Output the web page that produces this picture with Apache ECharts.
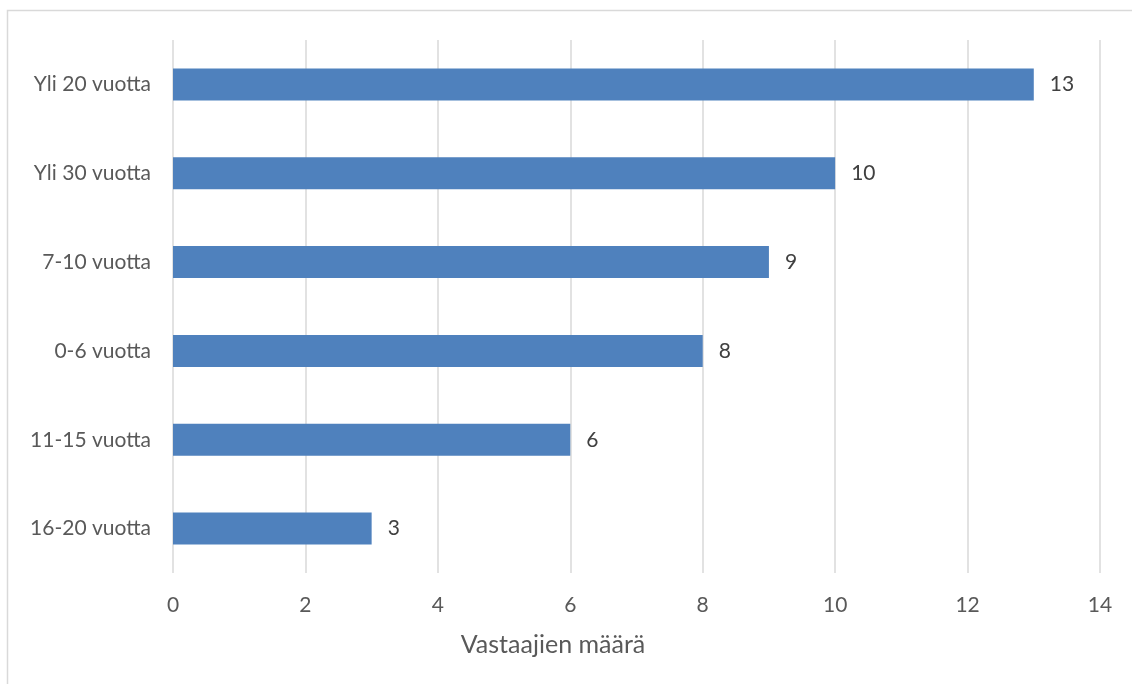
<!DOCTYPE html>
<html><head><meta charset="utf-8">
<script src="https://cdn.jsdelivr.net/npm/echarts@6/dist/echarts.min.js"></script>
<style>html,body{margin:0;padding:0;background:#fff}#c{width:1132px;height:684px}</style>
</head><body><div id="c"></div>
<script>
const categories = ['16-20 vuotta', '11-15 vuotta', '0-6 vuotta', '7-10 vuotta', 'Yli 30 vuotta', 'Yli 20 vuotta'];
const values = [3, 6, 8, 9, 10, 13];
const xTicks = { min: 0, max: 14, interval: 2 };
const axisTitle = 'Vastaajien määrä';

const chart = echarts.init(document.getElementById('c'));
const font = 'Lato';
chart.setOption({
  animation: false,
  textStyle: { fontFamily: font },
  graphic: [
    { type: 'rect', shape: { x: 7.5, y: 10.5, width: 1200, height: 800 }, style: { fill: 'none', stroke: '#d9d9d9', lineWidth: 1.5 }, silent: true },
    { type: 'text', x: 553, y: 645, style: { text: axisTitle, fontSize: 25, fontFamily: font, fill: '#595959', textAlign: 'center', textVerticalAlign: 'middle' }, silent: true }
  ],
  grid: { left: 173, right: 32, top: 40, bottom: 111 },
  xAxis: {
    type: 'value', min: xTicks.min, max: xTicks.max, interval: xTicks.interval,
    axisLabel: { fontSize: 21, color: '#595959', margin: 22 },
    axisLine: { show: false }, axisTick: { show: false },
    splitLine: { lineStyle: { color: '#d9d9d9', width: 1.5 } }
  },
  yAxis: {
    type: 'category', data: categories,
    axisLabel: { fontSize: 21, color: '#595959', margin: 22 },
    axisLine: { show: false }, axisTick: { show: false }
  },
  series: [{
    type: 'bar', data: values, barWidth: 32,
    itemStyle: { color: '#4f81bd' },
    label: { show: true, position: 'right', distance: 16, fontSize: 21, color: '#404040' }
  }]
});
</script></body></html>
